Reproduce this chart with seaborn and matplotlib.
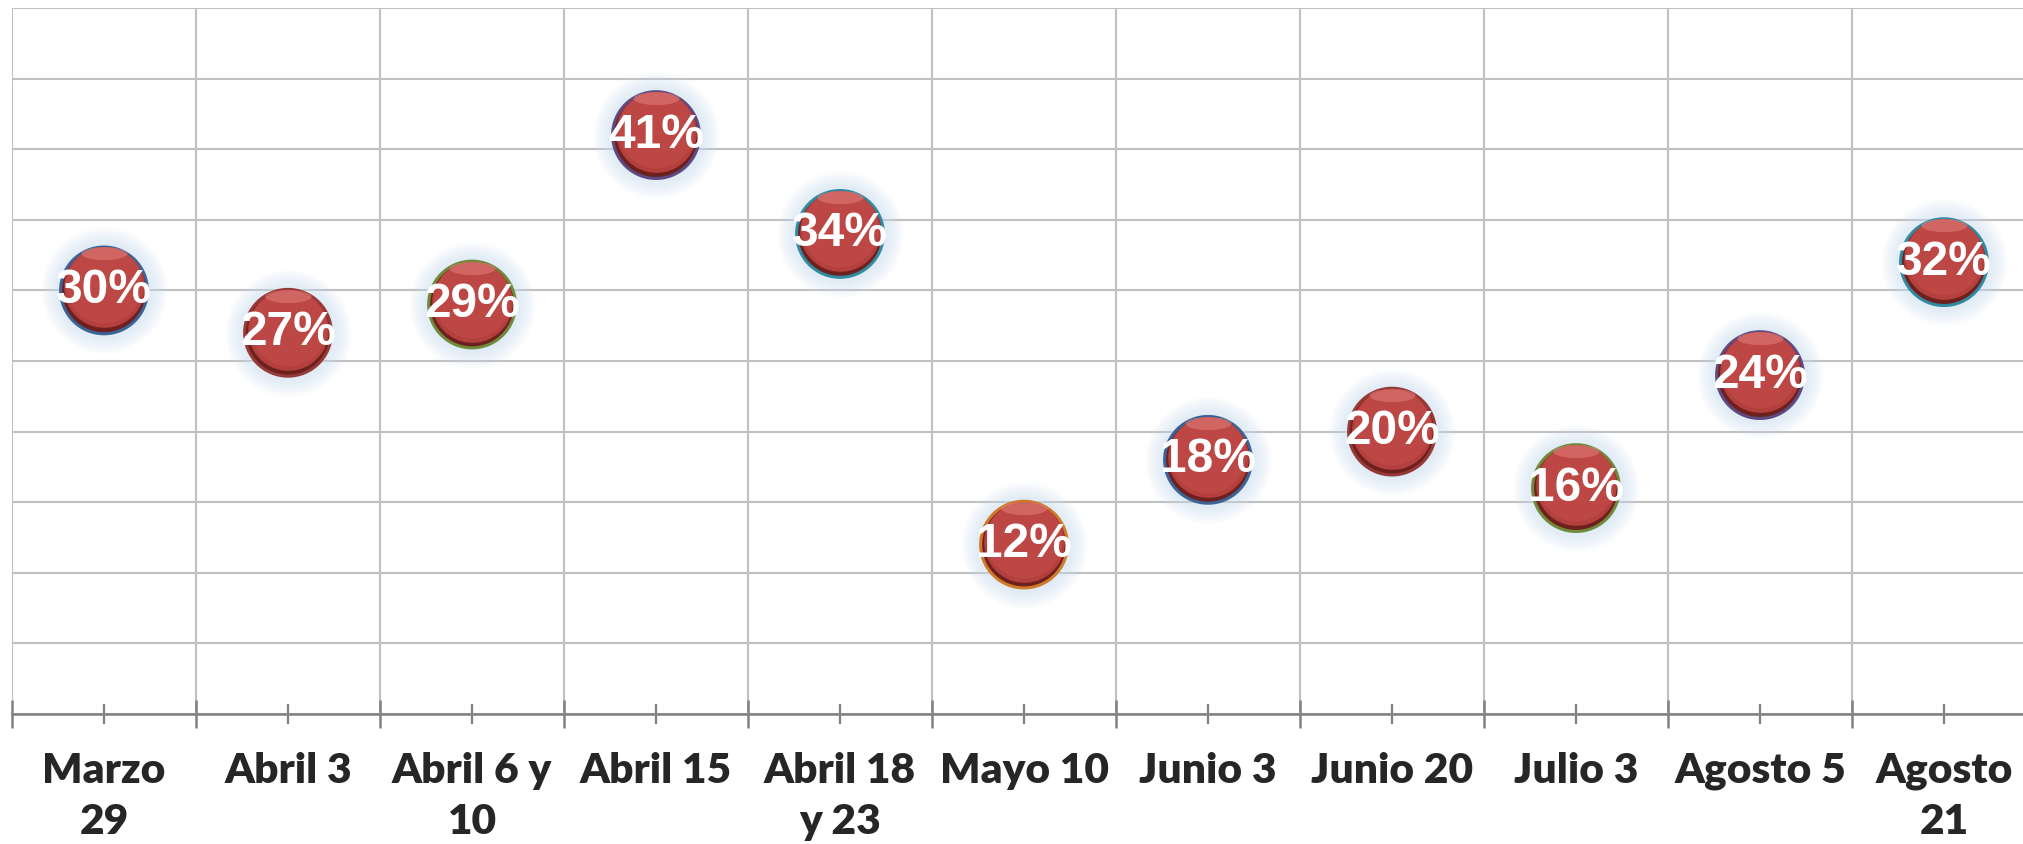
import numpy as np
import pandas as pd
import seaborn as sns
import matplotlib.pyplot as plt
from matplotlib.path import Path
from matplotlib.ticker import FixedLocator, MultipleLocator, NullFormatter

# Data
fechas = ["Marzo\n29", "Abril 3", "Abril 6 y\n10", "Abril 15", "Abril 18\ny 23",
          "Mayo 10", "Junio 3", "Junio 20", "Julio 3", "Agosto 5", "Agosto\n21"]
valores = [30, 27, 29, 41, 34, 12, 18, 20, 16, 24, 32]
etiquetas = ["30%", "27%", "29%", "41%", "34%", "12%", "18%", "20%", "16%", "24%", "32%"]

# Excel "vary colours by point" edge colours (darkened)
bordes = ["#3A6397", "#963A38", "#6E8A3A", "#5E4A80", "#318AA0", "#D07A2A",
          "#3A6397", "#963A38", "#6E8A3A", "#5E4A80", "#318AA0"]

df = pd.DataFrame({"fecha": fechas, "valor": valores})
df["pos"] = np.arange(len(df))

sns.set_style("white")
plt.rcParams["font.family"] = ["Lato", "DejaVu Sans"]

fig = plt.figure(figsize=(20.23, 8.44), dpi=100)
# right edge goes past the figure, last column is clipped like the original
ax = fig.add_axes([12 / 2023, 130 / 844, 2024 / 2023, 706 / 844])


def circle_path(cx, cy, r, n=80):
    t = np.linspace(0, 2 * np.pi, n)
    verts = np.column_stack([cx + r * np.cos(t), cy + r * np.sin(t)])
    return Path(verts, closed=True)


def ellipse_path(cx, cy, rx, ry, n=80):
    t = np.linspace(0, 2 * np.pi, n)
    verts = np.column_stack([cx + rx * np.cos(t), cy + ry * np.sin(t)])
    return Path(verts, closed=True)


S = 3900  # marker area in pt^2 (~88 px diameter)

# soft blue glow behind the spheres
for k, f in enumerate(np.linspace(1.45, 1.04, 7)):
    sns.scatterplot(data=df, x="pos", y="valor", s=S * f ** 2, color="#C5DCF0",
                    alpha=0.10, linewidth=0, marker="o", ax=ax, legend=False, zorder=3)

# dark base with coloured rim
sns.scatterplot(data=df, x="pos", y="valor", s=S, color="#6E201F",
                edgecolor=bordes, linewidth=2.2, marker="o", ax=ax, legend=False, zorder=4)
# main red body, shifted a bit up
sns.scatterplot(data=df, x="pos", y="valor", s=S, color="#B4403D",
                linewidth=0, marker=circle_path(0, 0.035, 0.465), ax=ax, legend=False, zorder=5)
sns.scatterplot(data=df, x="pos", y="valor", s=S, color="#C24B47",
                linewidth=0, marker=circle_path(0, 0.06, 0.43), ax=ax, legend=False,
                zorder=5, alpha=0.7)
# glossy highlight
sns.scatterplot(data=df, x="pos", y="valor", s=S, color="#E07F7B",
                linewidth=0, marker=ellipse_path(0, 0.40, 0.25, 0.07), ax=ax, legend=False,
                zorder=6, alpha=0.55)

for x, y, t in zip(df["pos"], df["valor"], etiquetas):
    ax.text(x, y, t, ha="center", va="center", color="white", fontsize=34.5,
            fontweight="bold", family=["Liberation Sans", "DejaVu Sans"], zorder=7)

ax.set_xlim(-0.5, len(fechas) - 0.5)
ax.set_ylim(0, 50)

# major ticks at category centres (labels), minor at boundaries (grid)
ax.xaxis.set_major_locator(FixedLocator(df["pos"]))
ax.set_xticklabels(fechas)
ax.xaxis.set_minor_locator(FixedLocator(np.arange(-0.5, len(fechas), 1.0)))
ax.xaxis.set_minor_formatter(NullFormatter())
ax.yaxis.set_major_locator(MultipleLocator(5))
ax.set_yticklabels([])

ax.grid(False)
ax.grid(True, which="minor", axis="x", color="#C0C0C0", linewidth=1.5, zorder=0)
ax.grid(True, which="major", axis="y", color="#C0C0C0", linewidth=1.5, zorder=0)
ax.set_axisbelow(True)

ax.tick_params(axis="x", which="both", bottom=True)
ax.tick_params(axis="x", which="major", direction="inout", length=15, width=1.6,
               color="#808080", pad=20, labelsize=30.5)
ax.tick_params(axis="x", which="minor", direction="inout", length=20, width=1.8,
               color="#808080")
ax.tick_params(axis="y", length=0)
for lab in ax.get_xticklabels():
    lab.set_fontweight("heavy")
    lab.set_linespacing(1.42)

for side in ["top", "right", "left"]:
    ax.spines[side].set_visible(False)
ax.spines["bottom"].set_color("#808080")
ax.spines["bottom"].set_linewidth(1.8)
ax.spines["bottom"].set_zorder(2)

ax.set_xlabel("")
ax.set_ylabel("")

fig.savefig("out.png", dpi=100, facecolor="white")
